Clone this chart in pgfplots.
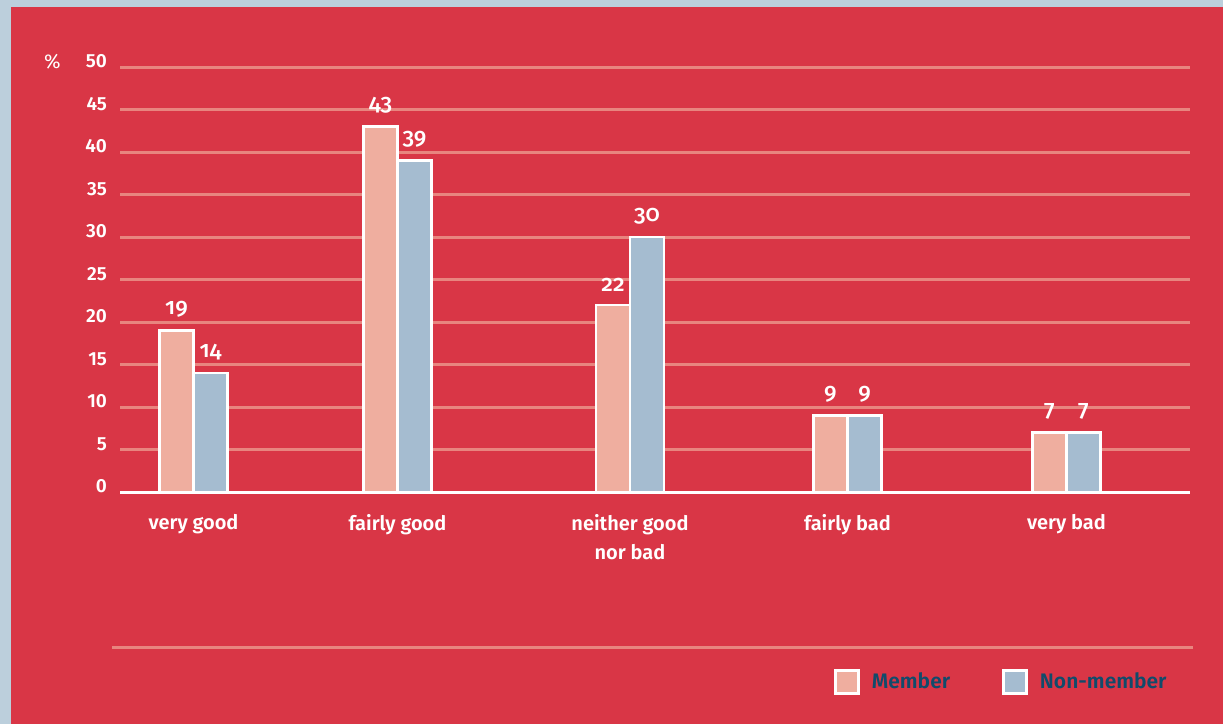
\documentclass[border=0pt]{standalone}
\usepackage{pgfplots}
\pgfplotsset{compat=1.18}
\usepackage{fontspec}
\setmainfont{Fira Sans}[BoldFont={Fira Sans SemiBold}]
\newfontfamily\oldnum{Fira Sans Medium}[Numbers=OldStyle]
\definecolor{bgred}{HTML}{D93646}
\definecolor{bgblue}{HTML}{BCCFDC}
\definecolor{gridpink}{HTML}{E8857F}
\definecolor{memcol}{HTML}{EFAE9F}
\definecolor{noncol}{HTML}{A5BCD0}
\definecolor{legblue}{HTML}{114B6B}
\begin{document}
\begin{tikzpicture}[x=0.5pt,y=0.5pt]
\fill[bgblue] (0,0) rectangle (1223,724);
\fill[bgred] (11,0) rectangle (1223,717);
\draw[gridpink, line width=1.5pt] (112,76) -- (1193,76);
\node[white, font=\fontsize{10}{12}\selectfont] at (52.5,662.5) {\%};
\begin{axis}[
  at={(60pt,116pt)}, anchor=south west,
  width=535pt, height=212.5pt, scale only axis,
  xmin=0, xmax=1070, ymin=0, ymax=50,
  ytick={0,5,...,50}, xtick={73.5,277.5,510,727.5,946.5},
  xticklabels={very good, fairly good, {neither good\\nor bad}, fairly bad, very bad},
  /pgf/number format/assume math mode=true,
  ymajorgrids, grid style={gridpink, line width=1.5pt},
  axis line style={draw=none}, major tick length=0pt,
  yticklabel style={font=\bfseries\fontsize{9.5}{10}\selectfont, text=white, xshift=-3pt, yshift=2.75pt},
  xticklabel style={font=\bfseries\fontsize{10}{14.5}\selectfont, text=white, align=center, yshift=-7.5pt},
  ybar=0pt, bar width=17pt, clip=false,
  nodes near coords,
  nodes near coords style={font=\oldnum\fontsize{11.5}{12}\selectfont, text=white, yshift=2.5pt},
  legend columns=2,
  legend style={at={(0.667,-0.447)}, anchor=west, draw=none, fill=none, inner sep=0pt,
    font=\bfseries\fontsize{10.5}{12}\selectfont, text=legblue,
    /tikz/every odd column/.append style={column sep=4pt},
    /tikz/every even column/.append style={column sep=24pt}},
  legend image code/.code={\draw[#1, line width=1.4pt] (0pt,-5.75pt) rectangle (11.5pt,5.75pt);},
]
\addplot[fill=memcol, draw=white, line width=1.4pt] coordinates {(73.5,19) (277.5,43) (510,22) (727.5,9) (946.5,7)};
\addplot[fill=noncol, draw=white, line width=1.4pt] coordinates {(73.5,14) (277.5,39) (510,30) (727.5,9) (946.5,7)};
\legend{Member, Non-member}
\draw[white, line width=1.5pt] (axis cs:0,0) -- (axis cs:1070,0);
\end{axis}
\end{tikzpicture}
\end{document}
